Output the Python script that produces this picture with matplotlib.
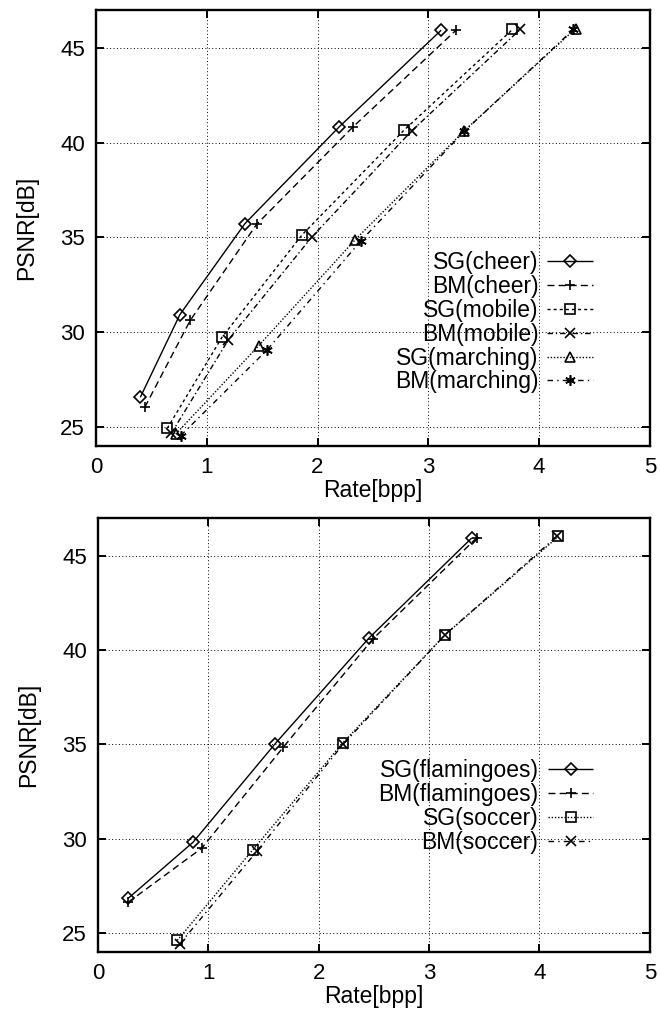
import matplotlib
matplotlib.use("Agg")
import matplotlib.pyplot as plt
import numpy as np

plt.rcParams['font.family'] = ['Liberation Sans', 'DejaVu Sans']

# ---- top panel data (Rate [bpp], PSNR [dB]) ----
sg_cheer_x = [0.40, 0.757, 1.343, 2.195, 3.116]
sg_cheer_y = [26.57, 30.93, 35.72, 40.83, 45.93]
bm_cheer_x = [0.44, 0.85, 1.45, 2.32, 3.25]
bm_cheer_y = [26.04, 30.62, 35.69, 40.83, 45.93]
sg_mobile_x = [0.643, 1.138, 1.861, 2.78, 3.76]
sg_mobile_y = [24.93, 29.74, 35.14, 40.65, 45.97]
bm_mobile_x = [0.68, 1.195, 1.948, 2.85, 3.83]
bm_mobile_y = [24.67, 29.60, 35.02, 40.62, 45.97]
sg_marching_x = [0.72, 1.47, 2.34, 3.32, 4.33]
sg_marching_y = [24.63, 29.30, 34.88, 40.60, 46.02]
bm_marching_x = [0.765, 1.545, 2.39, 3.325, 4.31]
bm_marching_y = [24.55, 29.07, 34.81, 40.60, 45.97]

# ---- bottom panel data ----
sg_flam_x = [0.273, 0.862, 1.606, 2.456, 3.387]
sg_flam_y = [26.84, 29.82, 35.04, 40.64, 45.94]
bm_flam_x = [0.273, 0.94, 1.68, 2.49, 3.43]
bm_flam_y = [26.63, 29.50, 34.86, 40.58, 45.94]
sg_soccer_x = [0.718, 1.405, 2.217, 3.147, 4.172]
sg_soccer_y = [24.61, 29.43, 35.07, 40.82, 46.02]
bm_soccer_x = [0.74, 1.44, 2.22, 3.147, 4.157]
bm_soccer_y = [24.42, 29.34, 35.00, 40.82, 46.02]

x_ticks = [0, 1, 2, 3, 4, 5]
y_ticks = [25, 30, 35, 40, 45]

star = (6, 2, 0)

top_series = [
    (sg_cheer_x, sg_cheer_y, 'SG(cheer)', 'D', (0, ())),
    (bm_cheer_x, bm_cheer_y, 'BM(cheer)', '+', (0, (5, 3))),
    (sg_mobile_x, sg_mobile_y, 'SG(mobile)', 's', (0, (2.2, 2.2))),
    (bm_mobile_x, bm_mobile_y, 'BM(mobile)', 'x', (0, (4, 2, 1, 2))),
    (sg_marching_x, sg_marching_y, 'SG(marching)', '^', (0, (1, 1.3))),
    (bm_marching_x, bm_marching_y, 'BM(marching)', star, (0, (4, 3, 1, 3))),
]
bottom_series = [
    (sg_flam_x, sg_flam_y, 'SG(flamingoes)', 'D', (0, ())),
    (bm_flam_x, bm_flam_y, 'BM(flamingoes)', '+', (0, (5, 3))),
    (sg_soccer_x, sg_soccer_y, 'SG(soccer)', 's', (0, (1, 1.3))),
    (bm_soccer_x, bm_soccer_y, 'BM(soccer)', 'x', (0, (4, 3, 1, 3))),
]


def draw_panel(ax, series, legend_anchor):
    for xs, ys, lab, mk, ls in series:
        msize = 6.5 if mk in ('D', '^') else 7.5
        ax.plot(xs, ys, color='black', linewidth=1.0, linestyle=ls,
                marker=mk, markersize=msize, markerfacecolor='none',
                markeredgecolor='black', markeredgewidth=1.2, label=lab)
    ax.set_xlim(0, 5)
    ax.set_ylim(24, 47)
    ax.set_xticks(x_ticks)
    ax.set_yticks(y_ticks)
    ax.grid(True, color='black', linestyle=(0, (1, 2.5)), linewidth=0.7)
    ax.tick_params(direction='in', length=6, width=1.4, top=True, right=True,
                   labelsize=16, pad=8)
    for s in ax.spines.values():
        s.set_linewidth(1.7)
    ax.set_xlabel('Rate[bpp]', fontsize=16.5, labelpad=1)
    ax.set_ylabel('PSNR[dB]', fontsize=16.5, labelpad=16)
    ax.legend(loc='center right', bbox_to_anchor=legend_anchor, frameon=False,
              markerfirst=False, fontsize=16.5, handlelength=2.0,
              handletextpad=0.4, labelspacing=0.04, borderaxespad=0,
              borderpad=0)


fig = plt.figure(figsize=(6.6, 10.15), dpi=100)
ax1 = fig.add_axes([0.1455, 0.5606, 0.839, 0.4296])
ax2 = fig.add_axes([0.1485, 0.0621, 0.836, 0.4276])

draw_panel(ax1, top_series, (0.898, 0.284))
draw_panel(ax2, bottom_series, (0.898, 0.335))

fig.savefig('out.png', dpi=100)
